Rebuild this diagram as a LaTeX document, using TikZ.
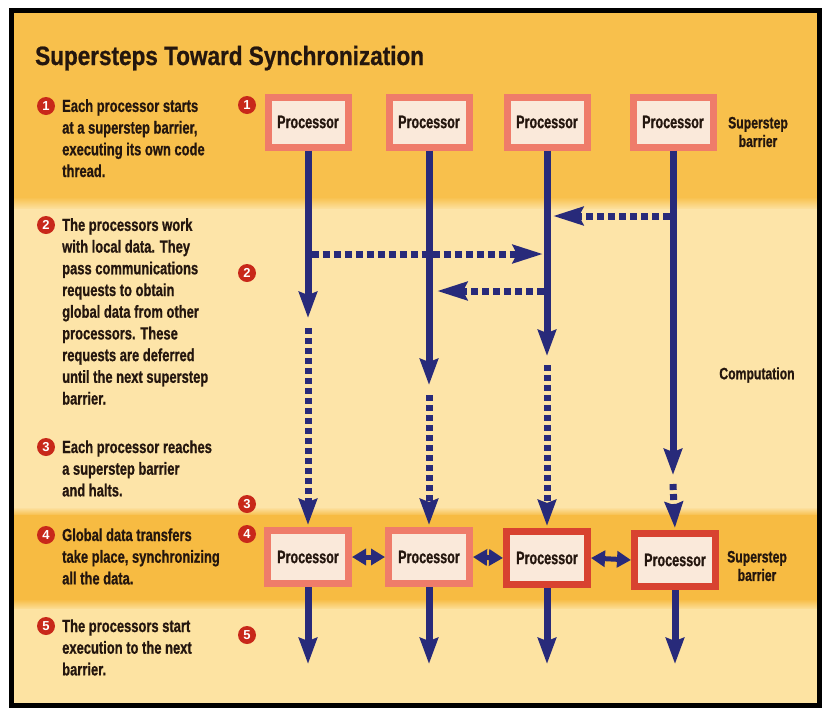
\documentclass[tikz,border=0pt]{standalone}
\usepackage{fontspec}
\usetikzlibrary{arrows.meta}
\newfontfamily\titlef[FakeStretch=0.85,FakeBold=0.8]{Liberation Sans}
\newfontfamily\bodyf[FakeStretch=0.74,FakeBold=0.8]{Liberation Sans}
\newfontfamily\procf[FakeStretch=0.70,FakeBold=0.8]{Liberation Sans}
\newfontfamily\numf{Liberation Sans}
\definecolor{bandtop}{RGB}{248,192,76}
\definecolor{bandmid}{RGB}{253,228,168}
\definecolor{bandbar}{RGB}{247,187,66}
\definecolor{bandbot}{RGB}{253,227,162}
\definecolor{navy}{RGB}{40,42,122}
\definecolor{salmon}{RGB}{239,124,106}
\definecolor{darkred}{RGB}{216,66,48}
\definecolor{boxfill}{RGB}{250,233,218}
\definecolor{numred}{RGB}{200,40,26}
\definecolor{ink}{RGB}{36,22,14}
\tikzset{
 proc/.style={draw=salmon, line width=7pt, fill=boxfill, minimum width=80pt, minimum height=50pt, inner sep=0pt, text=ink, font=\procf\bfseries\fontsize{18}{20}\selectfont},
 procB/.style={proc, minimum width=81pt, minimum height=53pt},
 procR/.style={procB, draw=darkred},
 num/.style={circle, fill=numred, text=white, inner sep=0pt, minimum size=18pt, font=\numf\bfseries\fontsize{13}{13}\selectfont},
 desc/.style={anchor=base west, align=left, inner sep=0pt, text=ink, font=\bodyf\bfseries\fontsize{17.5}{21.7}\selectfont},
 side/.style={align=center, inner sep=0pt, text=ink, font=\bodyf\bfseries\fontsize{16.5}{18.5}\selectfont},
 flow/.style={draw=navy, line width=7pt, -{Stealth[length=26pt,width=18pt,inset=3pt]}},
 dflow/.style={flow, dash pattern=on 6pt off 4pt},
 hflow/.style={draw=navy, line width=7pt, dash pattern=on 7pt off 4pt, -{Stealth[length=30pt,width=18pt,inset=4pt]}},
 link/.style={draw=navy, line width=5pt, {Triangle[length=14pt,width=16pt]}-{Triangle[length=14pt,width=16pt]}},
}
\begin{document}
\begin{tikzpicture}[x=1pt,y=-1pt]
\useasboundingbox (0,0) rectangle (825,710);
\fill[white] (0,0) rectangle (825,710);
% bands
\fill[bandtop] (11,10) rectangle (820,198);
\shade[top color=bandtop, bottom color=bandmid] (11,197) rectangle (820,210);
\fill[bandmid] (11,209) rectangle (820,508);
\shade[top color=bandmid, bottom color=bandbar] (11,507) rectangle (820,516);
\fill[bandbar] (11,515) rectangle (820,600);
\shade[top color=bandbar, bottom color=bandbot] (11,599) rectangle (820,610);
\fill[bandbot] (11,609) rectangle (820,705);
\draw[black, line width=5pt] (11,10) rectangle (819.5,705);

% title
\node[anchor=base west, inner sep=0pt, text=ink, font=\titlef\bfseries\fontsize{26.5}{30}\selectfont] (title) at (35,65) {Supersteps Toward Synchronization};

% left descriptions (anchor = baseline of last line)
\node[num] (L1) at (46,106) {1};
\node[desc] (d1) at (62,177) {Each processor starts\\at a superstep barrier,\\executing its own code\\thread.};
\node[num] (L2) at (46,225) {2};
\node[desc] (d2) at (62,404.5) {The processors work\\with local data. They\\pass communications\\requests to obtain\\global data from other\\processors. These\\requests are deferred\\until the next superstep\\barrier.};
\node[num] (L3) at (46,447) {3};
\node[desc] (d3) at (62,496.4) {Each processor reaches\\a superstep barrier\\and halts.};
\node[num] (L4) at (46,535) {4};
\node[desc] (d4) at (62,584.4) {Global data transfers\\take place, synchronizing\\all the data.};
\node[num] (L5) at (46,626) {5};
\node[desc] (d5) at (62,675.4) {The processors start\\execution to the next\\barrier.};

% step markers
\node[num] (R1) at (247,105) {1};
\node[num] (R2) at (247,273) {2};
\node[num] (R3) at (247,504) {3};
\node[num] (R4) at (247,534) {4};
\node[num] (R5) at (247,635) {5};

% right labels
\node[side] (s1) at (758,132) {Superstep\\barrier};
\node[side] (comp) at (757,375) {Computation};
\node[side] (s2) at (757,566) {Superstep\\barrier};

% top processors
\node[proc] (T1) at (308,122) {Processor};
\node[proc] (T2) at (429,122) {Processor};
\node[proc] (T3) at (547,122) {Processor};
\node[proc] (T4) at (673,122) {Processor};

% bottom processors
\node[procB] (B1) at (308,557) {Processor};
\node[procB] (B2) at (429,557) {Processor};
\node[procR] (B3) at (547,558) {Processor};
\node[procR] (B4) at (675,560) {Processor};

% break points
\coordinate (a1) at (308,318);
\coordinate (b1) at (308,328);
\coordinate (a2) at (429,385);
\coordinate (b2) at (429,395);
\coordinate (a3) at (547,356);
\coordinate (b3) at (547,365);
\coordinate (a4) at (673,475);
\coordinate (b4) at (673,484);
\coordinate (e1) at (308,664);
\coordinate (e2) at (429,664);
\coordinate (e3) at (547,664);
\coordinate (e4) at (675,664);
% message end points
\coordinate (m1s) at (669.5,216);
\coordinate (m1e) at (553,216);
\coordinate (m2s) at (311.5,254);
\coordinate (m2e) at (543,254);
\coordinate (m3s) at (543.5,291);
\coordinate (m3e) at (437,291);

% messages
\draw[hflow] (m1s) -- (m1e);
\draw[hflow] (m2s) -- (m2e);
\draw[hflow] (m3s) -- (m3e);

% computation threads
\draw[flow] (T1.south) -- (a1);
\draw[flow] (T2.south) -- (a2);
\draw[flow] (T3.south) -- (a3);
\draw[flow] (T4.south) -- (a4);
\draw[dflow, shorten >=2pt] (b1) -- (B1.north);
\draw[dflow, shorten >=2pt] (b2) -- (B2.north);
\draw[dflow, shorten >=2pt] (b3) -- (B3.north);
\draw[dflow, shorten >=2pt] (b4) -- (B4.north);

% synchronisation links
\draw[link] (B1.east) -- (B2.west);
\draw[link] (B2.east) -- (B3.west);
\draw[link] (B3.east) -- (B4.west);

% next superstep
\draw[flow] (B1.south) -- (e1);
\draw[flow] (B2.south) -- (e2);
\draw[flow] (B3.south) -- (e3);
\draw[flow] (B4.south) -- (e4);
\end{tikzpicture}
\end{document}
